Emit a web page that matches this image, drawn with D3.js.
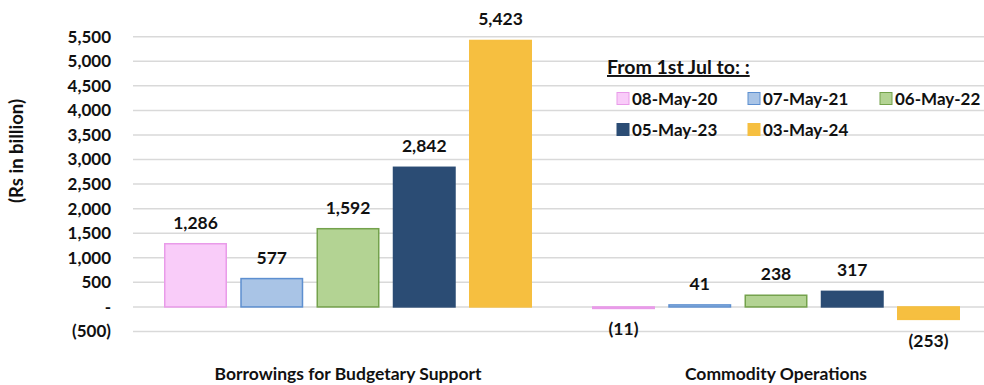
<!DOCTYPE html>
<html><head><meta charset="utf-8">
<script src="https://cdn.jsdelivr.net/npm/d3@7"></script>
<style>body{margin:0;background:#fff}svg{display:block}text{font-family:Lato,"Open Sans",sans-serif;font-weight:bold;fill:#111}</style>
</head><body>
<script>
const categories = ["Borrowings for Budgetary Support", "Commodity Operations"];
const series = ["08-May-20", "07-May-21", "06-May-22", "05-May-23", "03-May-24"];
const borrowings = [1286, 577, 1592, 2842, 5423];
const commodity = [-11, 41, 238, 317, -253];
const yTicks = [-500, 0, 500, 1000, 1500, 2000, 2500, 3000, 3500, 4000, 4500, 5000, 5500];
const fills = ["#f9ccf9", "#a9c4e6", "#b3d393", "#2b4c74", "#f6bf40"];
const strokes = ["#e99be9", "#5d8fd0", "#74a24c", "#2b4c74", "#f6bf40"];
const legendTitle = "From 1st Jul to: :";
const yTitle = "(Rs in billion)";

const W = 984, H = 385;
const svg = d3.select("body").append("svg").attr("width", W).attr("height", H);

const y = d3.scaleLinear().domain([-500, 5500]).range([331.5, 36.7]);
const x0 = d3.scaleBand().domain(categories).range([134, 990]);
const x1 = d3.scaleBand().domain(series).range([30, 398]).paddingInner(0.174);

const fmt = v => v === 0 ? "-" : (v < 0 ? "(" + d3.format(",")(-v) + ")" : d3.format(",")(v));

// gridlines
svg.append("g").selectAll("line").data(yTicks).join("line")
  .attr("x1", 133).attr("x2", W).attr("y1", d => y(d)).attr("y2", d => y(d))
  .attr("stroke", "#d9d9d9").attr("stroke-width", 1.5);

// y axis labels
const yAxis = d3.axisLeft(y).tickValues(yTicks).tickFormat(fmt).tickSize(0).tickPadding(0);
const ga = svg.append("g").attr("transform", "translate(111,0)").call(yAxis);
ga.select(".domain").remove();
ga.selectAll("text").attr("font-size", 17).attr("font-family", "Lato,sans-serif").attr("font-weight", "bold").attr("fill", "#111");

svg.append("text").attr("transform", "translate(23,151) rotate(-90)")
  .attr("text-anchor", "middle").attr("font-size", 18.5).text(yTitle);

const data = [borrowings, commodity];
const groups = svg.append("g").selectAll("g").data(categories).join("g")
  .attr("transform", d => `translate(${x0(d)},0)`);

groups.each(function(cat, ci) {
  const g = d3.select(this);
  const vals = data[ci];
  g.selectAll("rect").data(vals).join("rect")
    .attr("x", (d, i) => x1(series[i]) + 0.75)
    .attr("width", x1.bandwidth() - 1.5)
    .attr("y", d => y(Math.max(0, d)))
    .attr("height", d => Math.max(1.5, Math.abs(y(d) - y(0))))
    .attr("fill", (d, i) => fills[i])
    .attr("stroke", (d, i) => strokes[i]).attr("stroke-width", 1.5);
  g.selectAll("text.v").data(vals).join("text").attr("class", "v")
    .attr("x", (d, i) => x1(series[i]) + x1.bandwidth() / 2)
    .attr("y", d => d >= 0 ? y(d) - 15 : y(d) + 28)
    .attr("text-anchor", "middle").attr("font-size", 17.5)
    .text(fmt);
  g.append("text").attr("x", x0.bandwidth() / 2).attr("y", 380)
    .attr("text-anchor", "middle").attr("font-size", 17.5).text(cat);
});

// legend
svg.append("text").attr("x", 607).attr("y", 74).attr("font-size", 19.5)
  .attr("text-decoration", "underline").text(legendTitle);
const legPos = [[617, 99], [748, 99], [880, 99], [617, 130], [748, 130]];
const lg = svg.append("g").selectAll("g").data(series).join("g")
  .attr("transform", (d, i) => `translate(${legPos[i][0]},${legPos[i][1]})`);
lg.append("rect").attr("x", 0).attr("y", -6.5).attr("width", 12).attr("height", 12)
  .attr("fill", (d, i) => fills[i]).attr("stroke", (d, i) => strokes[i]).attr("stroke-width", 1);
lg.append("text").attr("x", 15).attr("y", 6).attr("font-size", 17).text(d => d);
</script>
</body></html>
